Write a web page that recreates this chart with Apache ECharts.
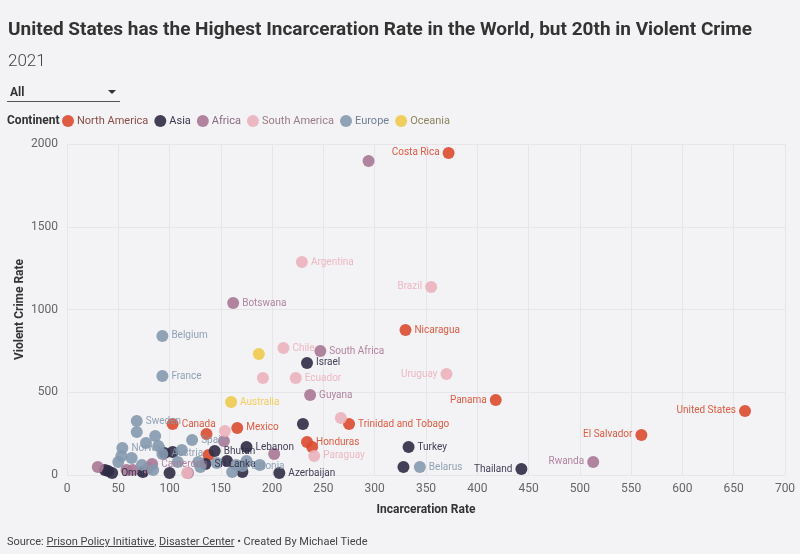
<!DOCTYPE html>
<html>
<head>
<meta charset="utf-8">
<script src="https://cdn.jsdelivr.net/npm/echarts@6/dist/echarts.min.js"></script>
<style>
  html, body { margin: 0; padding: 0; background: #f3f2f4; }
  #wrap { position: relative; width: 800px; height: 554px; font-family: Roboto, "Noto Sans", sans-serif; }
  #chart { position: absolute; left: 0; top: 0; width: 800px; height: 554px; }
  #pick { position: absolute; left: 7px; top: 83px; width: 113px; height: 18px; border-bottom: 1px solid #555;
          font-size: 12px; font-weight: bold; color: #333; }
  #pick span { position: absolute; left: 3px; top: 2px; }
  #pick i { position: absolute; right: 4px; top: 7px; width: 0; height: 0;
            border-left: 4px solid transparent; border-right: 4px solid transparent; border-top: 4px solid #333; }
  #foot { position: absolute; left: 7px; top: 535px; font-size: 11px; color: #444; }
  #foot u { text-decoration: underline; }
</style>
</head>
<body>
<div id="wrap">
  <div id="chart"></div>
  <div id="pick"><span>All</span><i></i></div>
  <div id="foot">Source: <u>Prison Policy Initiative</u>, <u>Disaster Center</u> • Created By Michael Tiede</div>
</div>
<script>
// [country, incarceration rate, violent crime rate]; '' = unlabeled point
const continents = ['North America', 'Asia', 'Africa', 'South America', 'Europe', 'Oceania'];
const colors = ['#dc4b30', '#2f2b46', '#a97896', '#ebb3be', '#8599ae', '#f0ca4d'];
const textColors = ['#8a4d47', '#3a3650', '#8a6a80', '#9a7d84', '#6f8093', '#8f8460'];

const northAmerica = [
  ['Costa Rica', 372, 1946], ['Nicaragua', 330, 876], ['Panama', 418, 453], ['United States', 661, 387],
  ['Canada', 103, 308], ['Trinidad and Tobago', 275, 308], ['Mexico', 166, 284], ['El Salvador', 560, 242],
  ['Honduras', 234, 199], ['', 239, 169], ['', 136, 248], ['', 138, 121]
];
const asia = [
  ['Israel', 234, 677], ['', 230, 308], ['Lebanon', 175, 169], ['Bhutan', 144, 145], ['Turkey', 333, 169],
  ['', 328, 48], ['Thailand', 443, 36], ['Azerbaijan', 207, 12], ['Sri Lanka', 135, 66], ['Oman', 44, 12],
  ['', 37, 30], ['', 40, 24], ['', 74, 18], ['', 100, 12], ['', 95, 133], ['', 103, 139], ['', 156, 85], ['', 171, 18]
];
const africa = [
  ['', 294, 1897], ['Botswana', 162, 1039], ['South Africa', 247, 749], ['Guyana', 237, 483],
  ['', 153, 205], ['', 202, 127], ['Rwanda', 513, 79], ['Cameroon', 83, 66],
  ['', 30, 48], ['', 58, 30], ['', 64, 30], ['', 118, 12], ['', 79, 42]
];
const southAmerica = [
  ['Argentina', 229, 1287], ['Brazil', 355, 1136], ['Chile', 211, 767], ['Ecuador', 223, 586],
  ['Uruguay', 370, 610], ['', 191, 586], ['', 267, 344], ['', 154, 266], ['Paraguay', 241, 115], ['', 117, 12]
];
const europe = [
  ['Belgium', 93, 840], ['France', 93, 598], ['Sweden', 68, 326], ['Spain', 122, 211], ['Norway', 54, 163],
  ['Austria', 93, 127], ['Belarus', 344, 48], ['Estonia', 171, 54],
  ['', 68, 260], ['', 86, 236], ['', 77, 193], ['', 89, 175], ['', 53, 115], ['', 63, 103], ['', 73, 60],
  ['', 112, 151], ['', 108, 79], ['', 128, 79], ['', 130, 48], ['', 84, 30], ['', 146, 73], ['', 165, 60],
  ['', 175, 85], ['', 188, 60], ['', 161, 18], ['', 50, 79]
];
const oceania = [
  ['Australia', 160, 441], ['', 187, 731]
];
const groups = [northAmerica, asia, africa, southAmerica, europe, oceania];
const leftLabels = ['Costa Rica', 'Brazil', 'Uruguay', 'Panama', 'United States', 'El Salvador', 'Thailand', 'Rwanda'];

const xTicks = { min: 0, max: 700, interval: 50 };
const yTicks = { min: 0, max: 2000, interval: 500 };

const chart = echarts.init(document.getElementById('chart'));

const series = continents.map((c, i) => ({
  name: c,
  type: 'scatter',
  symbolSize: 12,
  itemStyle: { color: colors[i], opacity: 0.9 },
  data: groups[i].map(d => ({
    name: d[0],
    value: [d[1], d[2]],
    label: { position: leftLabels.includes(d[0]) ? 'left' : 'right' }
  })),
  label: {
    show: true,
    formatter: p => p.name,
    color: i === 1 ? '#2f2b46' : colors[i],
    fontSize: 10,
    distance: 3,
    fontFamily: 'Roboto'
  },
  emphasis: { disabled: true }
}));

chart.setOption({
  animation: false,
  backgroundColor: '#f3f2f4',
  textStyle: { fontFamily: 'Roboto' },
  title: {
    text: 'United States has the Highest Incarceration Rate in the World, but 20th in Violent Crime',
    subtext: '2021',
    left: 3, top: 16, itemGap: 13,
    textStyle: { fontSize: 19, fontWeight: 'bold', color: '#333' },
    subtextStyle: { fontSize: 17, color: '#444', fontWeight: 300 }
  },
  graphic: [{
    type: 'text', left: 7, top: 115,
    style: { text: 'Continent', font: 'bold 12px Roboto', fill: '#333' }
  }],
  legend: {
    left: 62, top: 115, padding: 0,
    icon: 'circle', itemWidth: 12, itemHeight: 12, itemGap: 6,
    data: continents.map((c, i) => ({ name: c, textStyle: { color: textColors[i] } })),
    textStyle: { fontSize: 11, padding: [0, 0, 0, -2] },
    selectedMode: false
  },
  grid: { left: 67, right: 15, top: 144, bottom: 79 },
  xAxis: {
    type: 'value', min: xTicks.min, max: xTicks.max, interval: xTicks.interval,
    name: 'Incarceration Rate', nameLocation: 'middle', nameGap: 29,
    nameTextStyle: { fontWeight: 'bold', fontSize: 12, color: '#333' },
    axisLine: { show: false }, axisTick: { show: false },
    axisLabel: { color: '#666', fontSize: 12, margin: 8 },
    splitLine: { lineStyle: { color: '#e6e5e8' } }
  },
  yAxis: {
    type: 'value', min: yTicks.min, max: yTicks.max, interval: yTicks.interval,
    name: 'Violent Crime Rate', nameLocation: 'middle', nameGap: 41, nameMoveOverlap: false,
    nameTextStyle: { fontWeight: 'bold', fontSize: 12, color: '#333' },
    axisLine: { show: false }, axisTick: { show: false },
    axisLabel: { color: '#666', fontSize: 12, margin: 9, formatter: v => String(v) },
    splitLine: { lineStyle: { color: '#e6e5e8' } }
  },
  series: series
});
</script>
</body>
</html>
